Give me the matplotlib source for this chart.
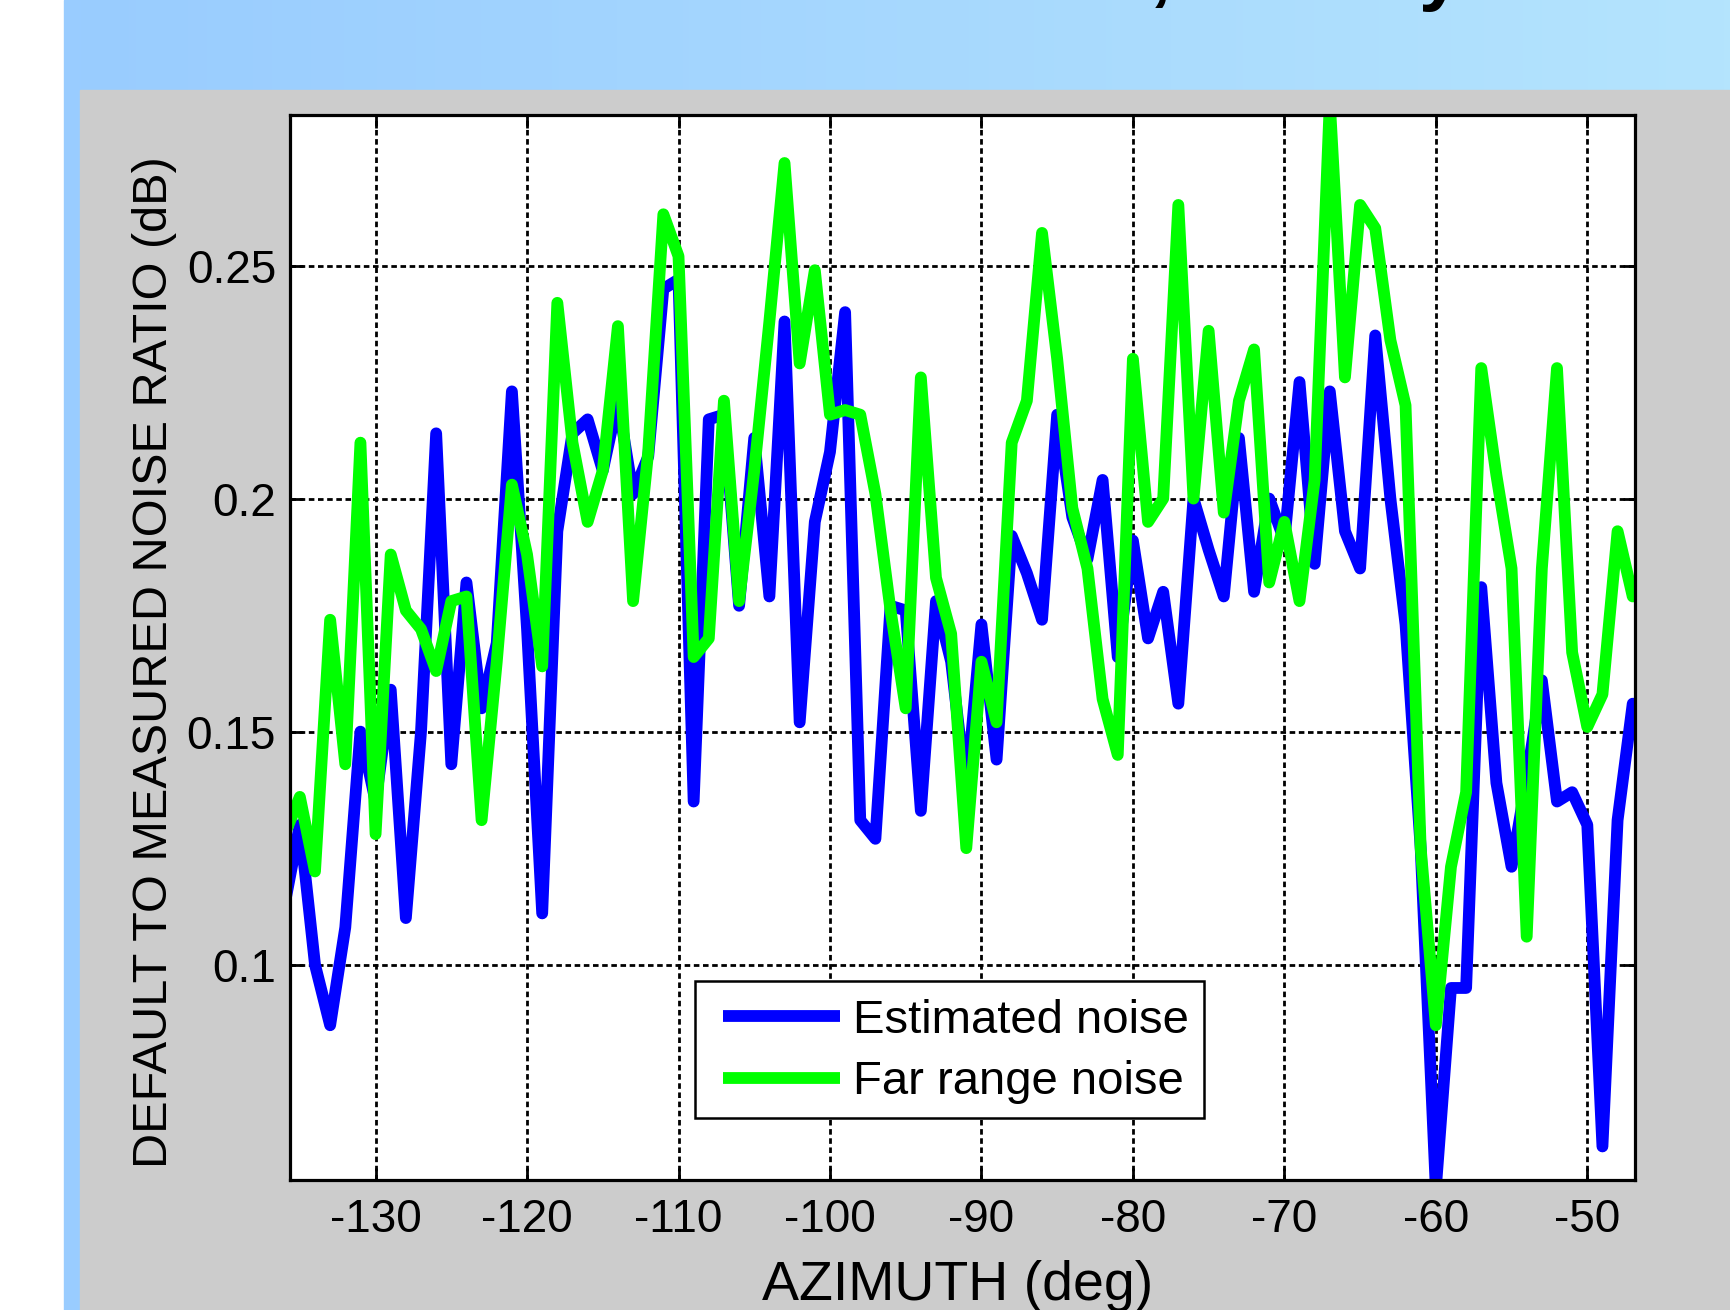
import matplotlib.pyplot as plt
import numpy as np
from matplotlib.patches import Rectangle

# azimuth samples, 1 deg apart
azimuth = np.arange(-136, -46)

estimated_noise = [
    0.113, 0.130, 0.100, 0.087, 0.108, 0.150, 0.135, 0.159, 0.110, 0.150,   # -136..-127
    0.214, 0.143, 0.182, 0.155, 0.169, 0.223, 0.172, 0.111, 0.193, 0.214,   # -126..-117
    0.217, 0.206, 0.221, 0.201, 0.209, 0.245, 0.247, 0.135, 0.217, 0.218,   # -116..-107
    0.177, 0.213, 0.179, 0.238, 0.152, 0.195, 0.210, 0.240, 0.131, 0.127,   # -106..-97
    0.177, 0.176, 0.133, 0.178, 0.165, 0.137, 0.173, 0.144, 0.192, 0.184,   # -96..-87
    0.174, 0.218, 0.196, 0.187, 0.204, 0.166, 0.191, 0.170, 0.180, 0.156,   # -86..-77
    0.200, 0.189, 0.179, 0.213, 0.180, 0.200, 0.191, 0.225, 0.186, 0.223,   # -76..-67
    0.193, 0.185, 0.235, 0.200, 0.173, 0.125, 0.052, 0.095, 0.095, 0.181,   # -66..-57
    0.139, 0.121, 0.140, 0.161, 0.135, 0.137, 0.130, 0.061, 0.131, 0.156,   # -56..-47
]

far_range_noise = [
    0.128, 0.136, 0.120, 0.174, 0.143, 0.212, 0.128, 0.188, 0.176, 0.172,   # -136..-127
    0.163, 0.178, 0.179, 0.131, 0.165, 0.203, 0.188, 0.164, 0.242, 0.212,   # -126..-117
    0.195, 0.206, 0.237, 0.178, 0.210, 0.261, 0.252, 0.166, 0.170, 0.221,   # -116..-107
    0.178, 0.206, 0.238, 0.272, 0.229, 0.249, 0.218, 0.219, 0.218, 0.201,   # -106..-97
    0.176, 0.155, 0.226, 0.183, 0.171, 0.125, 0.165, 0.152, 0.212, 0.221,   # -96..-87
    0.257, 0.230, 0.198, 0.185, 0.157, 0.145, 0.230, 0.195, 0.200, 0.263,   # -86..-77
    0.200, 0.236, 0.197, 0.221, 0.232, 0.182, 0.195, 0.178, 0.204, 0.285,   # -76..-67
    0.226, 0.263, 0.258, 0.234, 0.220, 0.125, 0.087, 0.121, 0.137, 0.228,   # -66..-57
    0.205, 0.185, 0.106, 0.185, 0.228, 0.167, 0.151, 0.158, 0.193, 0.179,   # -56..-47
]

x_ticks = [-130, -120, -110, -100, -90, -80, -70, -60, -50]
y_ticks = [0.1, 0.15, 0.2, 0.25]
y_tick_labels = ['0.1', '0.15', '0.2', '0.25']

plt.rcParams['font.family'] = ['Liberation Sans', 'DejaVu Sans']
plt.rcParams['axes.unicode_minus'] = False

W, H = 1731, 1310
fig = plt.figure(figsize=(W / 100, H / 100), dpi=100)

#------ slide background ------
bg = fig.add_axes([0, 0, 1, 1], zorder=-10)
c0 = np.array([153, 204, 255]) / 255
c1 = np.array([180, 228, 253]) / 255
t = np.linspace(0, 1, 256)
grad = c0[None, :] + (c1 - c0)[None, :] * t[:, None]
bg.imshow(grad[None, :, :], extent=[64, W, 92, 0], aspect='auto')
bg.add_patch(Rectangle((64, 0), 16, H, color=c0))
bg.add_patch(Rectangle((80, 90), W - 80, H - 90, color='#cccccc'))
bg.set_xlim(0, W)
bg.set_ylim(H, 0)
bg.axis('off')

# bits of the slide title cut off at the top
fig.text(1161 / W, 1 + 4.5 / H, ',', fontsize=56, fontweight='bold', ha='center', va='baseline')
fig.text(1418 / W, 1 + 4.5 / H, 'y', fontsize=56, fontweight='bold', ha='left', va='baseline')

#------ plot ------
ax = fig.add_axes([290 / W, 1 - 1180 / H, 1345 / W, 1065 / H])
ax.plot(azimuth, estimated_noise, color=(0, 0, 1), lw=8.5, label='Estimated noise',
        solid_joinstyle='round', solid_capstyle='round')
ax.plot(azimuth, far_range_noise, color=(0, 1, 0), lw=8.5, label='Far range noise',
        solid_joinstyle='round', solid_capstyle='round')

ax.set_xlim(-135.65, -46.85)
ax.set_ylim(0.0538, 0.2823)
ax.set_xticks(x_ticks)
ax.set_yticks(y_ticks)
ax.set_yticklabels(y_tick_labels)
ax.grid(True, color='k', lw=2, linestyle=(0, (2.0, 1.3)))
ax.set_axisbelow(True)
ax.tick_params(direction='in', length=9, width=2, top=True, right=True, labelsize=33)
ax.tick_params(axis='x', pad=13)
ax.tick_params(axis='y', pad=10)
for s in ax.spines.values():
    s.set_linewidth(2.3)

ax.set_xlabel('AZIMUTH (deg)', fontsize=40, va='baseline')
ax.xaxis.set_label_coords(0.4967, -0.1127)
ax.set_ylabel('DEFAULT TO MEASURED NOISE RATIO (dB)', fontsize=35, va='center', ha='center')
ax.yaxis.set_label_coords(-0.1011, 0.4864)

# legend box drawn by hand, entries placed inside it
box = Rectangle(((695 - 290) / 1345, (1180 - 1118) / 1065), 509 / 1345, 137 / 1065,
                transform=ax.transAxes, facecolor='white', edgecolor='k', lw=1.8, zorder=4.5)
ax.add_patch(box)
leg = ax.legend(loc='upper left', bbox_to_anchor=((723 - 290) / 1345, (1180 - 999) / 1065),
                borderaxespad=0, borderpad=0, fontsize=34, handlelength=2.47,
                handletextpad=0.28, labelspacing=0.37, frameon=False)
for ln in leg.get_lines():
    ln.set_solid_capstyle('butt')
    ln.set_linewidth(8.5)

plt.savefig('out.png', dpi=100)
